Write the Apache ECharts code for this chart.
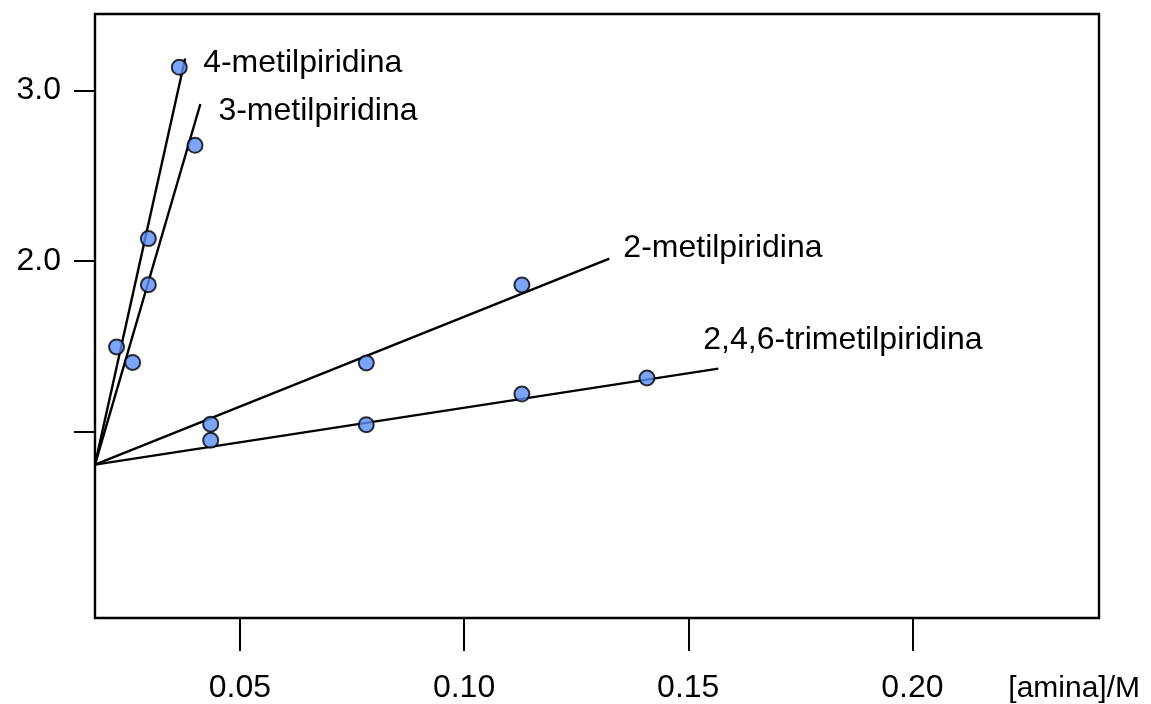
<!DOCTYPE html>
<html>
<head>
<meta charset="utf-8">
<script src="https://cdn.jsdelivr.net/npm/echarts@6/dist/echarts.min.js"></script>
<style>
html, body { margin: 0; background: #fff; }
#main { width: 1151px; height: 704px; }
</style>
</head>
<body>
<div id="main"></div>
<script>
// measured points, x = [amina]/M
const names = ['4-metilpiridina', '3-metilpiridina', '2-metilpiridina', '2,4,6-trimetilpiridina'];
const pic4X = [0.0225, 0.0296, 0.0365];
const pic4Y = [1.498, 2.132, 3.135];
const pic3X = [0.0261, 0.0296, 0.0400];
const pic3Y = [1.407, 1.862, 2.678];
const pic2X = [0.0435, 0.0782, 0.1129];
const pic2Y = [1.046, 1.404, 1.861];
const col246X = [0.0435, 0.0782, 0.1129, 0.1408];
const col246Y = [0.951, 1.043, 1.222, 1.316];

// fitted lines: common start, one end each
const fitStart = [0.0177, 0.809];
const fitEndX = [0.0378, 0.0412, 0.1324, 0.1567];
const fitEndY = [3.186, 2.920, 2.015, 1.371];

const xTicks = [0.05, 0.10, 0.15, 0.20];
const yTicks = [1.0, 2.0, 3.0];
const yTickLabels = [2.0, 3.0];

const FONT = "'Liberation Sans', Arial, Helvetica, sans-serif";
const zip = (xs, ys) => xs.map((x, i) => [x, ys[i]]);

const pointSets = [zip(pic4X, pic4Y), zip(pic3X, pic3Y), zip(pic2X, pic2Y), zip(col246X, col246Y)];
const labelOffsets = [[18, 5], [18, 7], [14, -10], [-15, -28]];

const chart = echarts.init(document.getElementById('main'));

const lineSeries = names.map((n, i) => ({
    name: n,
    type: 'line',
    data: [fitStart, [fitEndX[i], fitEndY[i]]],
    showSymbol: false,
    silent: true,
    lineStyle: { color: '#000', width: 2.4 },
    endLabel: {
        show: true,
        formatter: n,
        distance: 0,
        offset: labelOffsets[i],
        color: '#000',
        fontSize: 32,
        fontFamily: FONT
    },
    z: 2
}));

const dotSeries = pointSets.map((d, i) => ({
    name: names[i] + ' (dados)',
    type: 'scatter',
    data: d,
    symbol: 'circle',
    symbolSize: 15,
    itemStyle: { color: '#5b8ef7', borderColor: '#000', borderWidth: 2 },
    z: 3
}));

const option = {
    animation: false,
    backgroundColor: '#fff',
    grid: {
        left: 95, right: 52, top: 14, bottom: 86,
        show: true, borderColor: '#000', borderWidth: 2.4, backgroundColor: 'transparent'
    },
    xAxis: {
        type: 'value',
        min: 0.0177,
        max: 0.2416,
        name: '[amina]/M',
        nameLocation: 'end',
        nameGap: 41,
        nameTextStyle: {
            color: '#000', fontSize: 30, fontFamily: FONT,
            align: 'right', verticalAlign: 'top', padding: [56, 0, 0, 0]
        },
        axisLine: { show: false, onZero: false },
        axisTick: {
            show: true, inside: false, length: 33,
            customValues: xTicks,
            lineStyle: { color: '#000', width: 2 }
        },
        axisLabel: {
            customValues: xTicks,
            margin: 54,
            color: '#000', fontSize: 32, fontFamily: FONT,
            formatter: v => v.toFixed(2)
        },
        splitLine: { show: false }
    },
    yAxis: {
        type: 'value',
        min: -0.089,
        max: 3.447,
        axisLine: { show: false, onZero: false },
        axisTick: {
            show: true, inside: false, length: 21,
            customValues: yTicks,
            lineStyle: { color: '#000', width: 2 }
        },
        axisLabel: {
            customValues: yTickLabels,
            margin: 34,
            color: '#000', fontSize: 32, fontFamily: FONT,
            formatter: v => v.toFixed(1)
        },
        splitLine: { show: false }
    },
    series: lineSeries.concat(dotSeries)
};

chart.setOption(option);
</script>
</body>
</html>
